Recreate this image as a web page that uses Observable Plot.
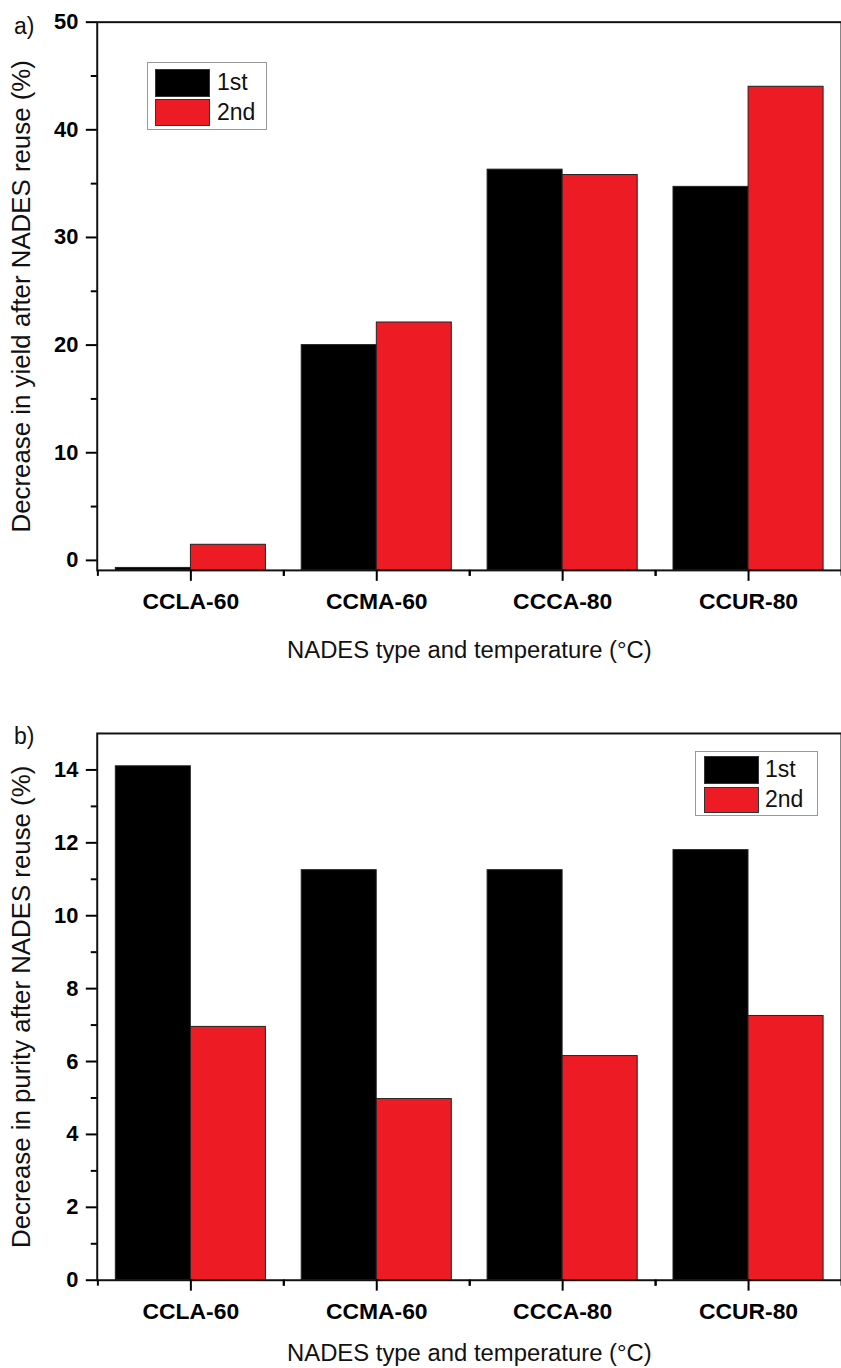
<!DOCTYPE html>
<html>
<head>
<meta charset="utf-8">
<script src="https://cdn.jsdelivr.net/npm/d3@7"></script>
<script src="https://cdn.jsdelivr.net/npm/@observablehq/plot@0.6"></script>
<style>
  html, body { margin: 0; padding: 0; background: #fff; }
  #wrap { position: relative; width: 841px; height: 1368px; overflow: hidden; font-family: "Liberation Sans", Arial, sans-serif; }
  .panel { position: absolute; left: 0; }
  .panel svg { font-family: "Liberation Sans", Arial, sans-serif; color: #000; overflow: visible; }
  .panel g[aria-label="y-axis tick label"], .panel g[aria-label="x-axis tick label"] { font-weight: bold; font-size: 22px; }
  .panel g[aria-label="x-axis tick label"] { font-size: 23px; }
  .panel g[aria-label="y-axis label"] { font-size: 26px; fill: #111; }
  .panel g[aria-label="x-axis label"] { font-size: 24px; fill: #111; }
  .panel g[aria-label="y-axis tick"] path, .panel g[aria-label="x-axis tick"] path { stroke-width: 2; }
  .tag { position: absolute; font-size: 23px; color: #111; }
  .legend { position: absolute; border: 1.5px solid #999; background: #fff; box-sizing: border-box; }
  .legend .sw { position: absolute; width: 55px; box-sizing: border-box; border: 1px solid #333; }
  .legend .lt { position: absolute; font-size: 23px; line-height: 1; color: #111; }
</style>
</head>
<body>
<div id="wrap"></div>
<script>
// ---- data ----
const categories = ["CCLA-60", "CCMA-60", "CCCA-80", "CCUR-80"];
const seriesNames = ["1st", "2nd"];
const seriesColors = ["#000000", "#ED1C24"];
const yieldFirst = [-0.7, 20.0, 36.3, 34.7];
const yieldSecond = [1.45, 22.1, 35.8, 44.0];
const purityFirst = [14.1, 11.25, 11.25, 11.8];
const puritySecond = [6.95, 4.97, 6.15, 7.25];
const yieldMajorTicks = [0, 10, 20, 30, 40, 50];
const yieldMinorTicks = [5, 15, 25, 35, 45];
const purityMajorTicks = [0, 2, 4, 6, 8, 10, 12, 14];
const purityMinorTicks = [1, 3, 5, 7, 9, 11, 13];
const yieldDomain = [-0.93, 50];
const purityDomain = [0, 15];
const xTitle = "NADES type and temperature (°C)";
const yieldTitle = "Decrease in yield after NADES reuse (%)";
const purityTitle = "Decrease in purity after NADES reuse (%)";

function rows(first, second) {
  const out = [];
  categories.forEach((c, i) => {
    out.push({category: c, series: seriesNames[0], value: first[i]});
    out.push({category: c, series: seriesNames[1], value: second[i]});
  });
  return out;
}

function makePanel({data, domain, major, minor, title, height, marginTop, marginBottom, xLabelOffset}) {
  const base = domain[0];
  const half = 93.55;
  const outer = 18;
  const barCommon = {x: "category", y1: () => base, y2: "value", stroke: "#222", strokeWidth: 1};
  return Plot.plot({
    width: 846,
    height,
    marginLeft: 97.3,
    marginRight: 0,
    marginTop,
    marginBottom,
    x: {domain: categories, padding: 0},
    y: {domain},
    marks: [
      Plot.barY(data.filter(d => d.series === seriesNames[0]), {...barCommon, fill: seriesColors[0], insetLeft: outer, insetRight: half}),
      Plot.barY(data.filter(d => d.series === seriesNames[1]), {...barCommon, fill: seriesColors[1], insetLeft: half, insetRight: outer}),
      Plot.frame({stroke: "#111", strokeWidth: 2}),
      Plot.axisY({ticks: major, tickSize: 11, tickPadding: 8, label: title, labelArrow: "none", labelAnchor: "center", labelOffset: 86}),
      Plot.axisY({ticks: minor, tickSize: 6, tickFormat: () => "", label: null}),
      Plot.axisX({tickSize: 11, tickPadding: 12, label: xTitle, labelArrow: "none", labelAnchor: "center", labelOffset: xLabelOffset}),
      Plot.axisX({tickSize: 6, tickFormat: () => "", label: null, dx: half}),
      Plot.axisX({tickSize: 6, tickFormat: () => "", label: null, dx: -half})
    ]
  });
}

const wrap = document.getElementById("wrap");

function addPanel(svg, top) {
  const div = document.createElement("div");
  div.className = "panel";
  div.style.top = top + "px";
  div.appendChild(svg);
  wrap.appendChild(div);
}

addPanel(makePanel({
  data: rows(yieldFirst, yieldSecond), domain: yieldDomain, major: yieldMajorTicks, minor: yieldMinorTicks,
  title: yieldTitle, height: 680, marginTop: 21.8, marginBottom: 106.7, xLabelOffset: 88
}), 0);

addPanel(makePanel({
  data: rows(purityFirst, puritySecond), domain: purityDomain, major: purityMajorTicks, minor: purityMinorTicks,
  title: purityTitle, height: 688, marginTop: 53.3, marginBottom: 84.7, xLabelOffset: 81
}), 680);

function addTag(text, left, top) {
  const t = document.createElement("div");
  t.className = "tag";
  t.textContent = text;
  t.style.left = left + "px";
  t.style.top = top + "px";
  wrap.appendChild(t);
}
addTag("a)", 14, 13);
addTag("b)", 14, 723);

function addLegend(box, sw, textLeft) {
  const lg = document.createElement("div");
  lg.className = "legend";
  Object.assign(lg.style, {left: box.x + "px", top: box.y + "px", width: box.w + "px", height: box.h + "px"});
  seriesNames.forEach((name, i) => {
    const s = document.createElement("div");
    s.className = "sw";
    Object.assign(s.style, {left: (sw.x - box.x) + "px", top: (sw.ys[i] - box.y) + "px", height: sw.hs[i] + "px", background: seriesColors[i]});
    lg.appendChild(s);
    const t = document.createElement("div");
    t.className = "lt";
    t.textContent = name;
    Object.assign(t.style, {left: (textLeft - box.x) + "px", top: (sw.ys[i] + sw.hs[i] / 2 - 11.5 - box.y) + "px"});
    lg.appendChild(t);
  });
  wrap.appendChild(lg);
}
addLegend({x: 147.3, y: 61.7, w: 119.4, h: 68.3}, {x: 154, ys: [67.7, 98.3], hs: [28, 27]}, 216);
addLegend({x: 695, y: 750.7, w: 123, h: 65.3}, {x: 703, ys: [755, 786], hs: [28, 26]}, 764);
</script>
</body>
</html>
